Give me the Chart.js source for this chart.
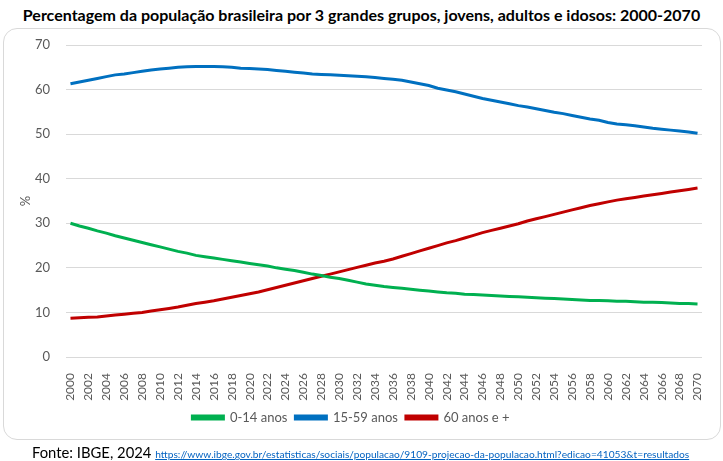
<!DOCTYPE html>
<html lang="pt-BR">
<head>
<meta charset="utf-8">
<title>Percentagem da população brasileira por grandes grupos</title>
<script src="https://cdn.jsdelivr.net/npm/chart.js@4/dist/chart.umd.min.js"></script>
<style>
  body { margin: 0; background: #fff; width: 723px; height: 461px; overflow: hidden; position: relative; font-family: Lato, "Open Sans", sans-serif; }
  #titulo { position: absolute; left: 0; top: 5px; width: 723px; text-align: center; font-weight: bold; font-size: 16px; color: #000; }
  #caixa { position: absolute; left: 3px; top: 28px; width: 716px; height: 410px; border: 1px solid #d9d9d9; border-radius: 14px; }
  #grafico { position: absolute; left: 0; top: 0; }
  #fonte { position: absolute; left: 32px; top: 443px; font-size: 14.8px; color: #000; white-space: nowrap; }
  #fonte a { font-size: 10.2px; color: #0563c1; text-decoration: underline; }
</style>
</head>
<body>
<div id="titulo">Percentagem da população brasileira por 3 grandes grupos, jovens, adultos e idosos: 2000-2070</div>
<div id="caixa"></div>
<canvas id="grafico" width="723" height="461"></canvas>
<div id="fonte">Fonte: IBGE, 2024 <a href="https://www.ibge.gov.br/estatisticas/sociais/populacao/9109-projecao-da-populacao.html?edicao=41053&t=resultados">https://www.ibge.gov.br/estatisticas/sociais/populacao/9109-projecao-da-populacao.html?edicao=41053&amp;t=resultados</a></div>
<script>
// Anos da projeção
const anos = [
  '2000','2001','2002','2003','2004','2005','2006','2007','2008','2009',
  '2010','2011','2012','2013','2014','2015','2016','2017','2018','2019',
  '2020','2021','2022','2023','2024','2025','2026','2027','2028','2029',
  '2030','2031','2032','2033','2034','2035','2036','2037','2038','2039',
  '2040','2041','2042','2043','2044','2045','2046','2047','2048','2049',
  '2050','2051','2052','2053','2054','2055','2056','2057','2058','2059',
  '2060','2061','2062','2063','2064','2065','2066','2067','2068','2069',
  '2070'
];

// Jovens (0-14 anos), %
const jovens = [
  30.0, 29.4, 28.9, 28.3, 27.8, 27.2, 26.7, 26.2, 25.7, 25.2,
  24.7, 24.2, 23.7, 23.3, 22.8, 22.5, 22.2, 21.9, 21.6, 21.3,
  21.0, 20.7, 20.4, 20.0, 19.7, 19.4, 19.0, 18.6, 18.3, 17.9,
  17.6, 17.2, 16.8, 16.4, 16.1, 15.8, 15.6, 15.4, 15.2, 15.0,
  14.8, 14.6, 14.4, 14.3, 14.1, 14.0, 13.9, 13.8, 13.7, 13.6,
  13.5, 13.4, 13.3, 13.2, 13.1, 13.0, 12.9, 12.8, 12.7, 12.7,
  12.6, 12.5, 12.5, 12.4, 12.3, 12.3, 12.2, 12.1, 12.0, 12.0,
  11.9
];

// Adultos (15-59 anos), %
const adultos = [
  61.3, 61.7, 62.1, 62.5, 62.9, 63.3, 63.5, 63.8, 64.1, 64.4,
  64.6, 64.8, 65.0, 65.1, 65.2, 65.2, 65.2, 65.1, 65.0, 64.8,
  64.7, 64.6, 64.5, 64.3, 64.1, 63.9, 63.7, 63.5, 63.4, 63.3,
  63.2, 63.1, 63.0, 62.9, 62.7, 62.5, 62.3, 62.1, 61.7, 61.3,
  60.9, 60.3, 59.9, 59.5, 59.0, 58.5, 58.0, 57.6, 57.2, 56.8,
  56.4, 56.1, 55.7, 55.3, 54.9, 54.6, 54.2, 53.8, 53.4, 53.1,
  52.6, 52.3, 52.1, 51.9, 51.6, 51.3, 51.1, 50.9, 50.7, 50.5,
  50.2
];

// Idosos (60 anos e +), %
const idosos = [
   8.7,  8.8,  8.9,  9.0,  9.2,  9.4,  9.6,  9.8, 10.0, 10.3,
  10.6, 10.9, 11.2, 11.6, 12.0, 12.3, 12.6, 13.0, 13.4, 13.8,
  14.2, 14.6, 15.1, 15.6, 16.1, 16.6, 17.1, 17.6, 18.1, 18.6,
  19.1, 19.6, 20.1, 20.6, 21.1, 21.5, 22.0, 22.6, 23.2, 23.8,
  24.4, 25.0, 25.6, 26.1, 26.7, 27.3, 27.9, 28.4, 28.9, 29.4,
  29.9, 30.5, 31.0, 31.5, 32.0, 32.5, 33.0, 33.5, 34.0, 34.4,
  34.8, 35.2, 35.5, 35.8, 36.1, 36.4, 36.7, 37.0, 37.3, 37.6,
  37.9
];

const nomes = ['0-14 anos', '15-59 anos', '60 anos e +'];
const cores = ['#00b050', '#0070c0', '#c00000'];
const series = [jovens, adultos, idosos];

const cinza = '#595959';
const fonte = 'Lato, "Open Sans", sans-serif';

const ctx = document.getElementById('grafico').getContext('2d');

new Chart(ctx, {
  type: 'line',
  data: {
    labels: anos,
    datasets: series.map((s, i) => ({
      label: nomes[i],
      data: s,
      borderColor: cores[i],
      backgroundColor: cores[i],
      borderWidth: 3,
      pointRadius: 0,
      tension: 0
    }))
  },
  options: {
    responsive: false,
    animation: false,
    layout: { padding: { left: 0, right: 21, top: 45, bottom: 27 } },
    scales: {
      x: {
        offset: true,
        grid: { display: false },
        border: { display: false },
        ticks: {
          autoSkip: false,
          minRotation: 90,
          maxRotation: 90,
          padding: 8,
          color: cinza,
          font: { family: fonte, size: 12 },
          callback: function (v, i) { return i % 2 === 0 ? this.getLabelForValue(v) : ''; }
        },
        afterFit: s => { s.height = 46; }
      },
      y: {
        min: 0,
        max: 70,
        ticks: { stepSize: 10, padding: 16, color: cinza, font: { family: fonte, size: 13 } },
        grid: { color: '#d9d9d9', drawTicks: false },
        border: { display: false },
        title: { display: true, text: '%', color: cinza, font: { family: fonte, size: 13 }, padding: { top: 18, bottom: 0 } },
        afterFit: s => { s.width = 66; }
      }
    },
    plugins: {
      legend: {
        position: 'bottom',
        labels: { boxWidth: 31, boxHeight: 3, padding: 8, color: cinza, font: { family: fonte, size: 13 } }
      },
      tooltip: { enabled: false }
    }
  }
});
</script>
</body>
</html>
